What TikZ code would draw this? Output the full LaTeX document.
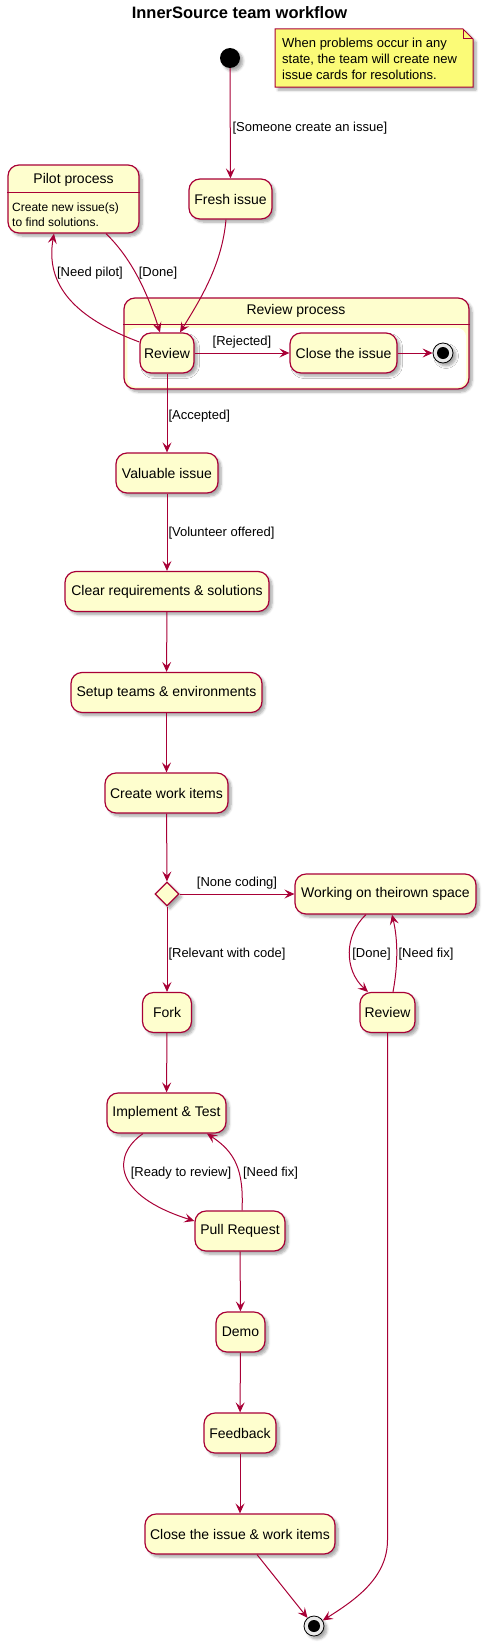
\documentclass[tikz,border=0pt]{standalone}
\usepackage{fontspec}
\setmainfont{Liberation Sans}
\usetikzlibrary{arrows.meta,shapes.geometric,shadows.blur,calc}
\definecolor{pborder}{HTML}{A80036}
\definecolor{pfill}{HTML}{FEFECE}
\definecolor{nfill}{HTML}{FBFB77}
\tikzset{
  shad/.style={blur shadow={shadow xshift=3pt,shadow yshift=-3pt,shadow blur steps=6,shadow blur radius=2.5pt,shadow opacity=35}},
  state/.style={draw=pborder, fill=pfill, line width=1.2pt, rounded corners=11pt, minimum height=40pt, inner sep=0pt, font=\fontsize{14}{16}\selectfont, shad},
  startc/.style={circle, fill=black, minimum size=20pt, inner sep=0pt, shad},
  endc/.style={circle, draw=black, line width=0.8pt, fill=gray!18, minimum size=20pt, inner sep=0pt, shad,
     path picture={\fill[black] (path picture bounding box.center) circle[radius=6pt];}},
  diam/.style={diamond, draw=pborder, fill=pfill, line width=1.2pt, minimum width=24pt, minimum height=24pt, inner sep=0pt, shape aspect=1, shad},
  arr/.style={draw=pborder, line width=1pt, -{Stealth[length=10pt,width=9pt,inset=4pt]}},
  lbl/.style={font=\fontsize{13}{15}\selectfont, inner sep=0pt, text=black},
  ttl/.style={font=\fontsize{14}{16}\selectfont, inner sep=0pt},
}
\begin{document}
\begin{tikzpicture}[x=1pt,y=-1pt]
\useasboundingbox (0,0) rectangle (489,1646);

% title
\node[font=\bfseries\fontsize{16.5}{18}\selectfont, inner sep=0pt] (title) at (239.5,13) {InnerSource team workflow};

% note
\path[fill=nfill, draw=pborder, line width=1pt, shad]
  (275,29) -- (463,29) -- (473,39) -- (473,87) -- (275,87) -- cycle;
\draw[pborder, line width=1pt] (463,29) -- (463,39) -- (473,39);
\node[lbl, align=left, anchor=north west, font=\fontsize{13}{16}\selectfont] (note) at (282,37.5)
  {When problems occur in any\\state, the team will create new\\issue cards for resolutions.};

% start
\node[startc] (start) at (230,58) {};
\node[state, minimum width=83pt] (fresh) at (230.5,199) {Fresh issue};

% pilot process
\node[draw=pborder, fill=pfill, line width=1.2pt, rounded corners=11pt, minimum width=131pt, minimum height=68pt, inner sep=0pt, shad] (pilot) at (73.5,199) {};
\draw[pborder, line width=1.2pt] ($(pilot.north west)+(0,28)$) -- ($(pilot.north east)+(0,28)$);
\node[ttl] (pilottitle) at (73.5,180) {Pilot process};
\node[inner sep=0pt, align=left, anchor=north west, font=\fontsize{12}{15}\selectfont] (pilotbody) at (12,202.5)
  {Create new issue(s)\\to find solutions.};

% review process
\node[draw=pborder, fill=pfill, line width=1.2pt, rounded corners=11pt, minimum width=345pt, minimum height=91pt, inner sep=0pt, shad] (revproc) at (296.5,343.5) {};
\draw[pborder, line width=1.2pt] ($(revproc.north west)+(0,27)$) -- ($(revproc.north east)+(0,27)$);
\fill[white, rounded corners=9pt] ($(revproc.north west)+(4,30.5)$) rectangle ($(revproc.south east)+(-3.5,-2.5)$);
\node[ttl] (revtitle) at (296,311) {Review process};
\node[state, minimum width=54pt] (review1) at (167,353) {Review};
\node[state, minimum width=107pt] (close1) at (343.5,353) {Close the issue};
\node[endc] (end1) at (443,353) {};

% main column
\node[state, minimum width=102pt] (valuable) at (167,473) {Valuable issue};
\node[state, minimum width=204pt] (clear) at (167,591.5) {Clear requirements \& solutions};
\node[state, minimum width=191pt] (setup) at (166.5,692.5) {Setup teams \& environments};
\node[state, minimum width=123pt] (create) at (166.5,793) {Create work items};
\node[diam] (choice) at (167,894) {};
\node[state, minimum width=181pt] (working) at (385.5,894) {Working on theirown space};
\node[state, minimum width=49pt] (fork) at (167,1012.5) {Fork};
\node[state, minimum width=55pt] (review2) at (387.5,1012.5) {Review};
\node[state, minimum width=119pt] (impl) at (166.5,1113) {Implement \& Test};
\node[state, minimum width=90pt] (pr) at (240,1231) {Pull Request};
\node[state, minimum width=49pt] (demo) at (240.5,1332) {Demo};
\node[state, minimum width=72pt] (feedback) at (240,1433) {Feedback};
\node[state, minimum width=190pt] (closeall) at (240,1534) {Close the issue \& work items};
\node[endc] (end2) at (314,1626) {};

% connectors
\draw[arr] (start) -- (fresh) node[lbl, anchor=west] at (232,128) {[Someone create an issue]};
\draw[arr] ([xshift=-4.5pt]fresh.south) .. controls (222,265) and (200,300) .. ([xshift=13pt]review1.north);
\draw[arr] ([xshift=32.5pt]pilot.south) .. controls (128,255) and (145,285) .. ([xshift=-7pt]review1.north)
  node[lbl] at (158,273) {[Done]};
\draw[arr] ([yshift=11pt]review1.west) .. controls (75,318) and (45,285) .. ([xshift=-19.5pt]pilot.south)
  node[lbl] at (90,273) {[Need pilot]};
\draw[arr] (review1) -- (close1) node[lbl] at (242,342) {[Rejected]};
\draw[arr] (close1) -- (end1);
\draw[arr] (review1) -- (valuable) node[lbl, anchor=west] at (168,416) {[Accepted]};
\draw[arr] (valuable) -- (clear) node[lbl, anchor=west] at (168,533) {[Volunteer offered]};
\draw[arr] (clear) -- (setup);
\draw[arr] (setup) -- (create);
\draw[arr] (create) -- (choice);
\draw[arr] (choice) -- (working) node[lbl] at (237,883) {[None coding]};
\draw[arr] (choice) -- (fork) node[lbl, anchor=west] at (168,954) {[Relevant with code]};
\draw[arr] ([xshift=-19.5pt]working.south) .. controls (344,935) and (344,970) .. ([xshift=-19.5pt]review2.north)
  node[lbl] at (371.5,954) {[Done]};
\draw[arr] ([xshift=5.5pt]review2.north) .. controls (398,965) and (398,940) .. ([xshift=6.5pt]working.south)
  node[lbl] at (426,954) {[Need fix]};
\draw[arr] (fork) -- (impl);
\draw[arr] ([xshift=-23.5pt]impl.south) .. controls (112,1155) and (112,1195) .. ([yshift=10pt]pr.west)
  node[lbl] at (181,1173) {[Ready to review]};
\draw[arr] ([xshift=2pt]pr.north) .. controls (244,1170) and (235,1152) .. ([xshift=40.5pt]impl.south)
  node[lbl] at (270.5,1173) {[Need fix]};
\draw[arr] (pr) -- (demo);
\draw[arr] (demo) -- (feedback);
\draw[arr] (feedback) -- (closeall);
\draw[arr] ([xshift=17pt]closeall.south) -- (end2);
\draw[arr] (review2.south) -- (387.5,1540) coordinate (bend) .. controls (387.5,1578) and (355,1600) .. (end2);
\end{tikzpicture}
\end{document}
